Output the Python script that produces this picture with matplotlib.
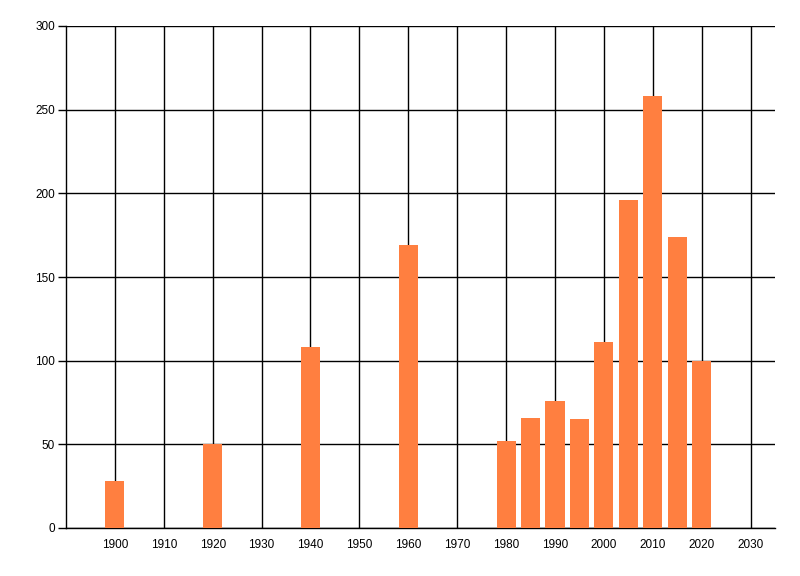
import matplotlib
matplotlib.use("Agg")
import matplotlib.pyplot as plt

years = [1900, 1920, 1940, 1960, 1980, 1985, 1990, 1995, 2000, 2005, 2010, 2015, 2020]
values = [28, 50, 108, 169, 52, 66, 76, 65, 111, 196, 258, 174, 100]
xticks = list(range(1900, 2031, 10))
yticks = [0, 50, 100, 150, 200, 250, 300]

plt.rcParams['font.family'] = ['Liberation Sans', 'DejaVu Sans']
fig = plt.figure(figsize=(8, 5.76), dpi=100)
ax = fig.add_axes([66/800, 1-528/576, (775-66)/800, (528-26)/576])

ax.bar(years, values, width=3.9, color='#FF7F40', zorder=3)
ax.set_xlim(1890, 2035)
ax.set_ylim(0, 300)
ax.set_xticks(xticks)
ax.set_yticks(yticks)
ax.grid(True, color='black', linewidth=1.0, zorder=0)
ax.set_axisbelow(True)
for s in ['top', 'right']:
    ax.spines[s].set_visible(False)
for s in ['left', 'bottom']:
    ax.spines[s].set_linewidth(1.0)
    ax.spines[s].set_color('black')
ax.tick_params(axis='x', length=0, pad=8, labelsize=8.5)
ax.tick_params(axis='y', length=6, width=1.0, pad=2, labelsize=8.5)
fig.savefig('out.png', dpi=100)
